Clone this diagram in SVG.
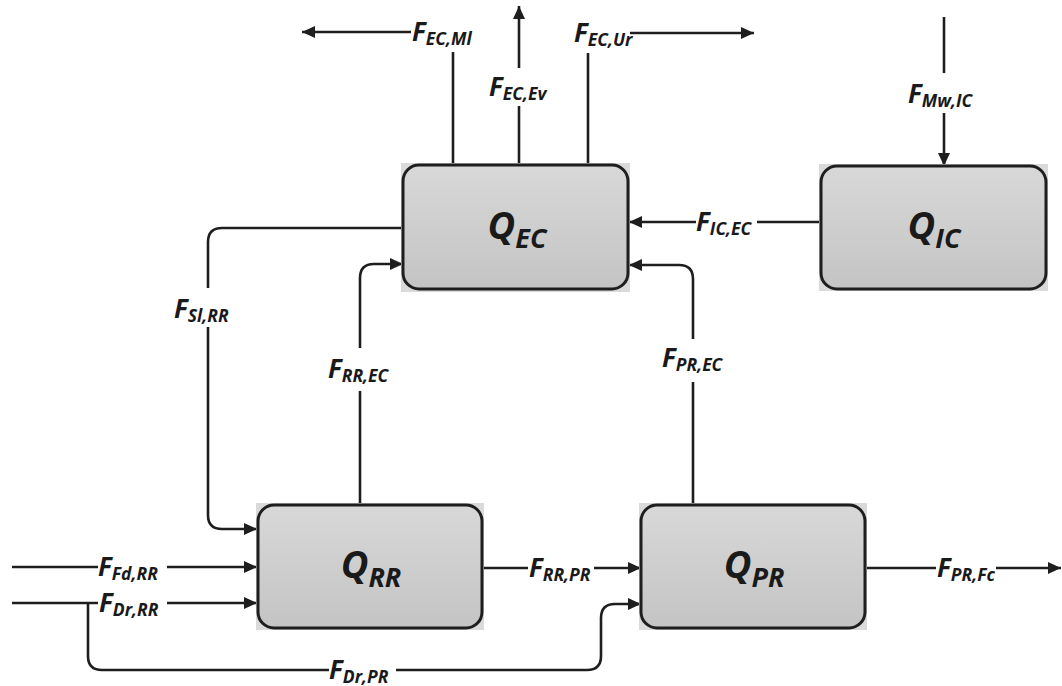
<svg xmlns="http://www.w3.org/2000/svg" width="1062" height="686" viewBox="0 0 1062 686">
<style>
.ln{fill:none;stroke:#1e1e1e;stroke-width:2.6}
.box{fill:url(#g);stroke:#1e1e1e;stroke-width:3}
.bg{fill:#dadada}
.q{font-family:"Open Sans","Liberation Sans",sans-serif;font-weight:bold;font-style:italic;font-size:38px;fill:#1a1a1a}
.qs{font-size:27px}
.f{font-family:"Open Sans","Liberation Sans",sans-serif;font-weight:bold;font-style:italic;font-size:26px;fill:#1a1a1a}
.fs{font-size:17.5px}
</style>
<defs>
<linearGradient id="g" x1="0" y1="0" x2="0" y2="1">
<stop offset="0" stop-color="#d8d8d8"/>
<stop offset="1" stop-color="#c4c4c4"/>
</linearGradient>
<marker id="a" markerUnits="userSpaceOnUse" markerWidth="14" markerHeight="12" refX="13" refY="6" orient="auto">
<path d="M0,0 L13,6 L0,12 z" fill="#1e1e1e"/>
</marker>
</defs>
<rect width="1062" height="686" fill="#ffffff"/>
<g id="connectors">
<path class="ln" d="M453,165 V52"/>
<path class="ln" d="M411,32 H302" marker-end="url(#a)"/>
<path class="ln" d="M519,165 V106"/>
<path class="ln" d="M519,68 V6" marker-end="url(#a)"/>
<path class="ln" d="M588,165 V53"/>
<path class="ln" d="M630,33 H754" marker-end="url(#a)"/>
<path class="ln" d="M944,17 V73"/>
<path class="ln" d="M944,113 V166" marker-end="url(#a)"/>
<path class="ln" d="M821,222 H757"/>
<path class="ln" d="M696,222 H629" marker-end="url(#a)"/>
<path class="ln" d="M403,228 H222 Q208,228 208,242 V288"/>
<path class="ln" d="M208,327 V515 Q208,529 222,529 H257" marker-end="url(#a)"/>
<path class="ln" d="M360,505 V391"/>
<path class="ln" d="M360,348 V278 Q360,264 374,264 H403" marker-end="url(#a)"/>
<path class="ln" d="M693,505 V382"/>
<path class="ln" d="M693,339 V279 Q693,265 679,265 H629" marker-end="url(#a)"/>
<path class="ln" d="M12,567 H98"/>
<path class="ln" d="M167,567 H257" marker-end="url(#a)"/>
<path class="ln" d="M12,603 H98"/>
<path class="ln" d="M167,603 H257" marker-end="url(#a)"/>
<path class="ln" d="M88,603 V656 Q88,670 102,670 H329"/>
<path class="ln" d="M396,670 H587 Q601,670 601,656 V618 Q601,604 615,604 H641" marker-end="url(#a)"/>
<path class="ln" d="M482,568 H528"/>
<path class="ln" d="M594,568 H641" marker-end="url(#a)"/>
<path class="ln" d="M865,568 H936"/>
<path class="ln" d="M996,568 H1061" marker-end="url(#a)"/>
<text class="f" x="412" y="41">F<tspan class="fs" dy="4">EC,Ml</tspan></text>
<text class="f" x="489" y="96">F<tspan class="fs" dy="4">EC,Ev</tspan></text>
<text class="f" x="574" y="42">F<tspan class="fs" dy="4">EC,Ur</tspan></text>
<text class="f" x="908" y="103">F<tspan class="fs" dy="4">Mw,IC</tspan></text>
<text class="f" x="696" y="231">F<tspan class="fs" dy="4">IC,EC</tspan></text>
<text class="f" x="174" y="318">F<tspan class="fs" dy="4">Sl,RR</tspan></text>
<text class="f" x="328" y="378">F<tspan class="fs" dy="4">RR,EC</tspan></text>
<text class="f" x="662" y="367">F<tspan class="fs" dy="4">PR,EC</tspan></text>
<text class="f" x="98" y="576">F<tspan class="fs" dy="4">Fd,RR</tspan></text>
<text class="f" x="99" y="612">F<tspan class="fs" dy="4">Dr,RR</tspan></text>
<text class="f" x="329" y="679">F<tspan class="fs" dy="4">Dr,PR</tspan></text>
<text class="f" x="529" y="577">F<tspan class="fs" dy="4">RR,PR</tspan></text>
<text class="f" x="937" y="577">F<tspan class="fs" dy="4">PR,Fc</tspan></text>
</g>
<g id="QEC">
<rect class="bg" x="401" y="163" width="229" height="129"/>
<rect class="box" x="403" y="165" width="225" height="124" rx="16"/>
<text class="q" x="517" y="239" text-anchor="middle">Q<tspan class="qs" dy="9">EC</tspan></text>
</g>
<g id="QIC">
<rect class="bg" x="819" y="164" width="229" height="127"/>
<rect class="box" x="821" y="166" width="225" height="123" rx="16"/>
<text class="q" x="934" y="239" text-anchor="middle">Q<tspan class="qs" dy="9">IC</tspan></text>
</g>
<g id="QRR">
<rect class="bg" x="256" y="503" width="228" height="127"/>
<rect class="box" x="258" y="505" width="224" height="123" rx="16"/>
<text class="q" x="371" y="578" text-anchor="middle">Q<tspan class="qs" dy="9">RR</tspan></text>
</g>
<g id="QPR">
<rect class="bg" x="639" y="503" width="228" height="127"/>
<rect class="box" x="641" y="505" width="224" height="123" rx="16"/>
<text class="q" x="754" y="578" text-anchor="middle">Q<tspan class="qs" dy="9">PR</tspan></text>
</g>
</svg>
